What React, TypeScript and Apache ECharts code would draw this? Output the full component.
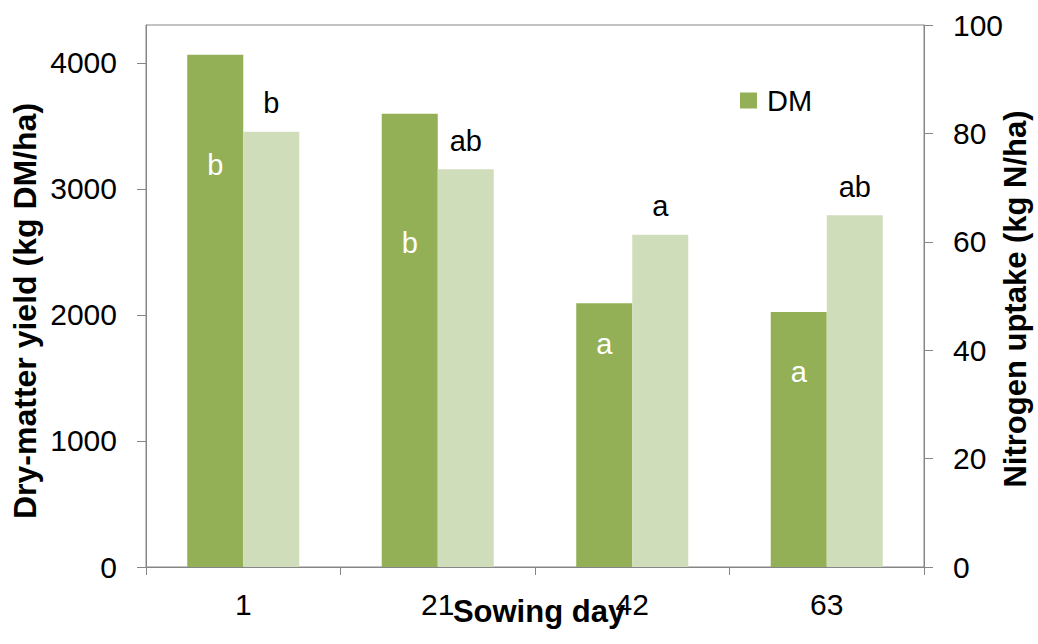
import React, { useEffect, useRef } from "react";
import * as echarts from "echarts";

const categories = ["1", "21", "42", "63"];
const dmValues = [4063, 3595, 2093, 2024];
const nValues = [80.3, 73.4, 61.3, 64.9];
const dmLetters = ["b", "b", "a", "a"];
const nLetters = ["b", "ab", "a", "ab"];
const leftTicks = [0, 1000, 2000, 3000, 4000];

// label placement inside the dark bars (px below the bar top)
const dmLabelDist = [96, 115, 26, 46];

const FONT = "'Liberation Sans', Arial, sans-serif";
const AXIS = "#868686";
const DARK = "#93B057";
const LIGHT = "#CFDDBB";

export default function App() {
  const ref = useRef<HTMLDivElement>(null);
  useEffect(() => {
    if (!ref.current) return;
    const chart = echarts.init(ref.current, undefined, { renderer: "svg" });
    chart.setOption({
      animation: false,
      backgroundColor: "#ffffff",
      textStyle: { fontFamily: FONT },
      grid: {
        left: 146,
        right: 114,
        top: 25,
        bottom: 77,
        show: true,
        borderColor: AXIS,
        borderWidth: 1,
        backgroundColor: "transparent",
      },
      legend: {
        data: ["DM"],
        left: 735,
        top: 81,
        icon: "rect",
        itemWidth: 17,
        itemHeight: 16,
        textStyle: { fontFamily: FONT, fontSize: 29, color: "#000", padding: [0, 0, 0, 5] },
      },
      xAxis: {
        type: "category",
        data: categories,
        axisLine: { lineStyle: { color: AXIS, width: 1 } },
        axisTick: { show: true, alignWithLabel: false, length: 8, lineStyle: { color: AXIS } },
        axisLabel: { fontFamily: FONT, fontSize: 30, color: "#000", margin: 22 },
        splitLine: { show: false },
      },
      yAxis: [
        {
          type: "value",
          min: 0,
          max: 4300,
          position: "left",
          axisLine: { show: true, lineStyle: { color: AXIS, width: 1 } },
          axisTick: { show: true, length: 9, lineStyle: { color: AXIS }, customValues: leftTicks },
          axisLabel: {
            fontFamily: FONT,
            fontSize: 30,
            color: "#000",
            margin: 29,
            customValues: leftTicks,
            formatter: (v: number) => String(v),
          },
          splitLine: { show: false },
        },
        {
          type: "value",
          min: 0,
          max: 100,
          interval: 20,
          position: "right",
          axisLine: { show: true, lineStyle: { color: AXIS, width: 1 } },
          axisTick: { show: true, length: 9, lineStyle: { color: AXIS } },
          axisLabel: { fontFamily: FONT, fontSize: 30, color: "#000", margin: 29, formatter: (v: number) => String(v) },
          splitLine: { show: false },
        },
      ],
      series: [
        {
          name: "DM",
          type: "bar",
          yAxisIndex: 0,
          barGap: "0%",
          barCategoryGap: "42.4%",
          itemStyle: { color: DARK },
          data: dmValues.map((v, i) => ({
            value: v,
            label: {
              show: true,
              position: "insideTop",
              distance: dmLabelDist[i],
              formatter: dmLetters[i],
              color: "#ffffff",
              fontFamily: FONT,
              fontSize: 29,
            },
          })),
        },
        {
          name: "N",
          type: "bar",
          yAxisIndex: 1,
          barGap: "0%",
          barCategoryGap: "42.4%",
          itemStyle: { color: LIGHT },
          data: nValues.map((v, i) => ({
            value: v,
            label: {
              show: true,
              position: "top",
              distance: 14,
              formatter: nLetters[i],
              color: "#000000",
              fontFamily: FONT,
              fontSize: 29,
            },
          })),
        },
      ],
      graphic: [
        {
          type: "text",
          x: 25,
          y: 311,
          rotation: Math.PI / 2,
          style: {
            text: "Dry-matter yield (kg DM/ha)",
            fontFamily: FONT,
            fontSize: 32,
            fontWeight: "bold",
            fill: "#000",
            align: "center",
            verticalAlign: "middle",
          },
        },
        {
          type: "text",
          x: 1015,
          y: 299,
          rotation: Math.PI / 2,
          style: {
            text: "Nitrogen uptake (kg N/ha)",
            fontFamily: FONT,
            fontSize: 31,
            fontWeight: "bold",
            fill: "#000",
            align: "center",
            verticalAlign: "middle",
          },
        },
        {
          type: "text",
          x: 539,
          y: 611,
          style: {
            text: "Sowing day",
            fontFamily: FONT,
            fontSize: 31,
            fontWeight: "bold",
            fill: "#000",
            align: "center",
            verticalAlign: "middle",
          },
        },
      ],
    });
    return () => chart.dispose();
  }, []);
  return (
    <div
      ref={ref}
      style={{ position: "absolute", left: 0, top: 0, width: 1038, height: 644 }}
    />
  );
}
